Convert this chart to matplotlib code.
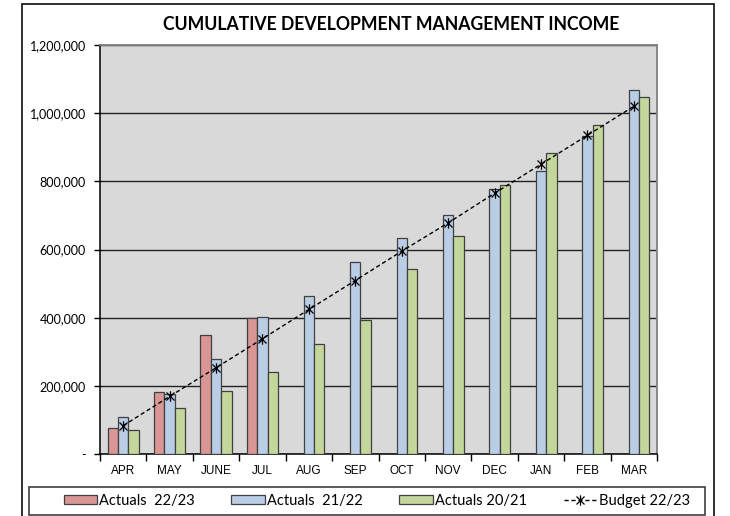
import matplotlib
matplotlib.use("Agg")
import matplotlib.pyplot as plt
import matplotlib.path as mpath
import matplotlib.patches as mpatches
import numpy as np

months = ["APR", "MAY", "JUNE", "JUL", "AUG", "SEP", "OCT", "NOV", "DEC", "JAN", "FEB", "MAR"]
actuals_2223 = [77000, 181000, 349000, 399000, np.nan, np.nan, np.nan, np.nan, np.nan, np.nan, np.nan, np.nan]
actuals_2122 = [108000, 176000, 280000, 403000, 465000, 563000, 633000, 700000, 778000, 830000, 933000, 1068000]
actuals_2021 = [69000, 134000, 184000, 240000, 324000, 392000, 543000, 639000, 790000, 882000, 965000, 1046000]
budget_2223 = [83000, 169000, 253000, 338000, 424000, 509000, 595000, 678000, 765000, 850000, 935000, 1020000]
yticks = [0, 200000, 400000, 600000, 800000, 1000000, 1200000]
ytick_labels = ["-", "200,000", "400,000", "600,000", "800,000", "1,000,000", "1,200,000"]

W, H = 730, 516
fig = plt.figure(figsize=(W / 100, H / 100), dpi=100)
ax = fig.add_axes([100 / W, (H - 454) / H, (657 - 100) / W, (454 - 45) / H])

# outer chart frame
fig.patches.append(mpatches.Rectangle((22 / W, -0.05), (714 - 22) / W, (H - 4) / H + 0.05,
                                      transform=fig.transFigure, fill=False,
                                      edgecolor="#202020", linewidth=1.3))
# legend frame
fig.patches.append(mpatches.Rectangle((29 / W, (H - 515) / H), (705 - 29) / W, 28 / H,
                                      transform=fig.transFigure, fill=False,
                                      edgecolor="#404040", linewidth=1.2))

x = np.arange(len(months))
w = 0.224
edge = "#404040"
ax.set_facecolor("#D9D9D9")
b1 = ax.bar(x - w, actuals_2223, w, color="#D99694", edgecolor=edge, linewidth=0.9, zorder=3,
            label="Actuals  22/23")
b2 = ax.bar(x, actuals_2122, w, color="#B9CDE5", edgecolor=edge, linewidth=0.9, zorder=3,
            label="Actuals  21/22")
b3 = ax.bar(x + w, actuals_2021, w, color="#C3D69B", edgecolor=edge, linewidth=0.9, zorder=3,
            label="Actuals 20/21")

star = mpath.Path([(-1, -1), (1, 1), (-1, 1), (1, -1), (0, -1.3), (0, 1.3)],
                  [mpath.Path.MOVETO, mpath.Path.LINETO, mpath.Path.MOVETO, mpath.Path.LINETO,
                   mpath.Path.MOVETO, mpath.Path.LINETO])
ln, = ax.plot(x, budget_2223, color="black", linestyle=(0, (3, 2)), linewidth=1.0,
              marker=star, markersize=7.5, markerfacecolor="none", markeredgecolor="black",
              markeredgewidth=0.9, zorder=4, label="Budget 22/23")

ax.set_ylim(0, 1200000)
ax.set_xlim(-0.5, len(months) - 0.5)
ax.set_yticks(yticks)
ax.set_yticklabels(ytick_labels, fontfamily="Lato", fontsize=9)
ax.yaxis.grid(True, color="#222222", linewidth=1.0, zorder=1)
ax.set_axisbelow(True)
ax.tick_params(axis="y", length=4, width=1, color="black", pad=6)

ax.set_xticks(np.arange(-0.5, len(months), 1.0))
ax.set_xticklabels([])
ax.set_xticks(x, minor=True)
ax.set_xticklabels(months, minor=True, fontfamily="Liberation Sans", fontsize=8.5)
ax.tick_params(axis="x", which="major", length=5, width=1, color="black")
ax.tick_params(axis="x", which="minor", length=0, pad=8)

for s in ["left", "bottom"]:
    ax.spines[s].set_color("black")
    ax.spines[s].set_linewidth(1.1)
for s in ["top", "right"]:
    ax.spines[s].set_color("#808080")
    ax.spines[s].set_linewidth(1.3)

fig.text(391 / W, (H - 24) / H, "CUMULATIVE DEVELOPMENT MANAGEMENT INCOME", ha="center", va="center",
         fontfamily="Lato", fontweight="bold", fontsize=12.7)

leg = fig.legend(handles=[b1, b2, b3, ln], loc="center",
                 bbox_to_anchor=(377 / W, (H - 501) / H),
                 ncol=4, frameon=False, prop={"family": "Lato", "size": 10.5},
                 handlelength=2.3, handleheight=0.55, handletextpad=0.15, columnspacing=2.5,
                 borderaxespad=0, borderpad=0.2)

fig.savefig("out.png", dpi=100)
